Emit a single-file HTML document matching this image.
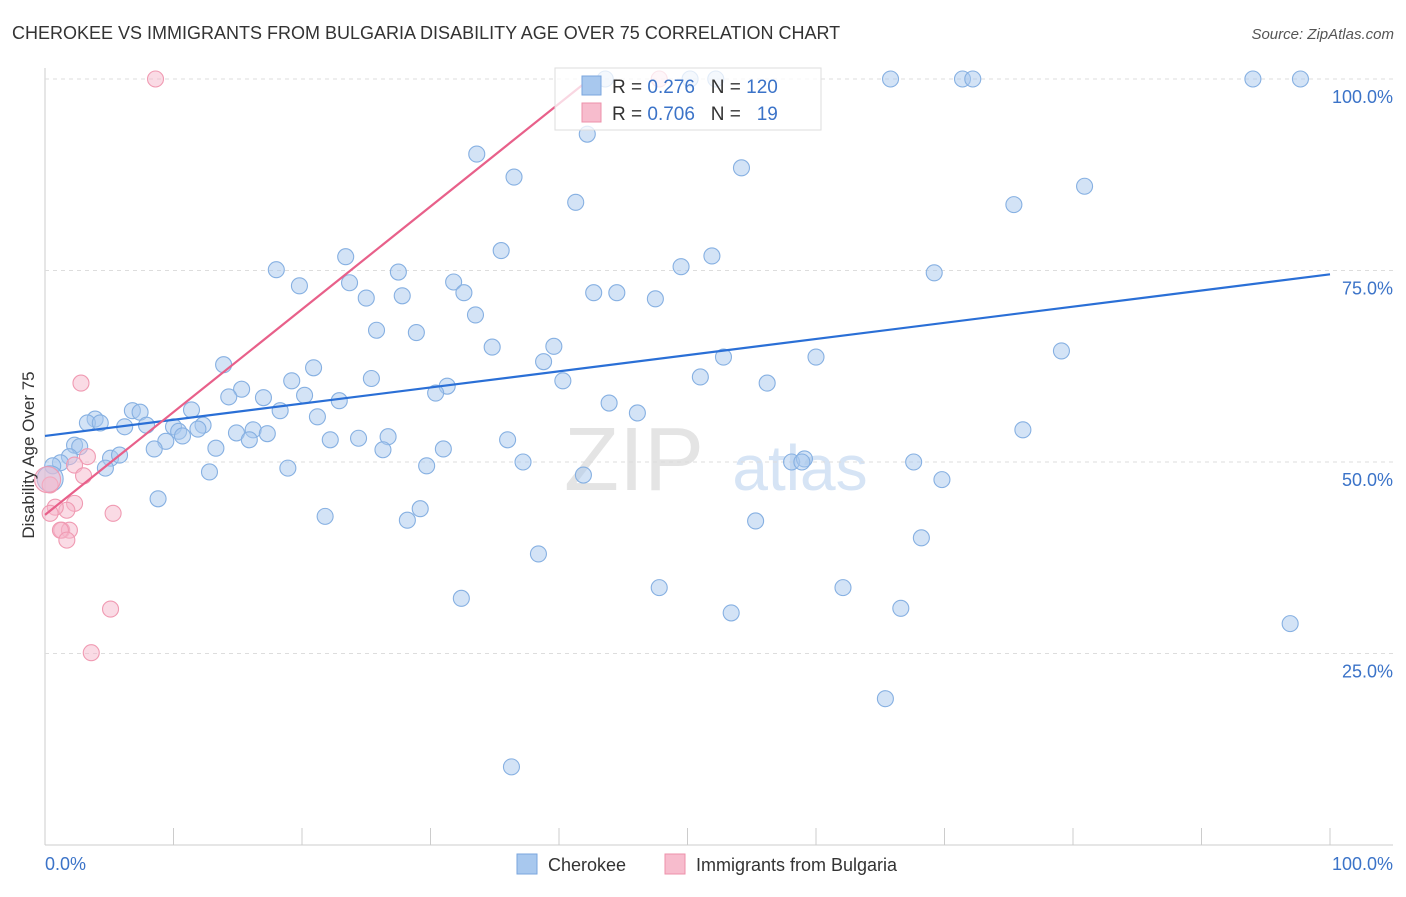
<!DOCTYPE html>
<html><head><meta charset="utf-8"><style>
body{margin:0;background:#fff;font-family:"Liberation Sans",sans-serif;}
svg text{font-family:"Liberation Sans",sans-serif;}
</style></head><body>
<svg width="1406" height="892" xmlns="http://www.w3.org/2000/svg">
<text x="12" y="39" font-size="18" fill="#333">CHEROKEE VS IMMIGRANTS FROM BULGARIA DISABILITY AGE OVER 75 CORRELATION CHART</text>
<text x="1394" y="39" font-size="15" fill="#555" font-style="italic" text-anchor="end">Source: ZipAtlas.com</text>
<text x="634" y="490" font-size="90" fill="#e4e4e4" font-family="Liberation Serif" text-anchor="middle">ZIP</text>
<text x="800" y="490" font-size="64" fill="#d6e4f5" text-anchor="middle">atlas</text>
<g id="grid"></g><g id="pts"></g><g id="lines"></g>
<text x="34" y="455" font-size="17" fill="#333" transform="rotate(-90 34 455)" text-anchor="middle">Disability Age Over 75</text>
<text x="45" y="870" font-size="18" fill="#3b73c8">0.0%</text>
<text x="1393" y="870" font-size="18" fill="#3b73c8" text-anchor="end">100.0%</text>
<rect x="555" y="68" width="266" height="62" fill="#fff" fill-opacity="0.75" stroke="#ddd"/>
<rect x="582" y="76" width="19" height="19" fill="#a8c8ee" stroke="#7aa6de"/>
<rect x="582" y="103" width="19" height="19" fill="#f7bccd" stroke="#ee90aa"/>
<text x="612" y="93" font-size="19" fill="#333">R = <tspan fill="#3b73c8">0.276</tspan>&#160;&#160;&#160;N = <tspan fill="#3b73c8">120</tspan></text>
<text x="612" y="120" font-size="19" fill="#333">R = <tspan fill="#3b73c8">0.706</tspan>&#160;&#160;&#160;N = <tspan fill="#3b73c8">&#160;&#160;19</tspan></text>
<rect x="517" y="854" width="20" height="20" fill="#a8c8ee" stroke="#7aa6de"/>
<text x="548" y="871" font-size="18" fill="#333">Cherokee</text>
<rect x="665" y="854" width="20" height="20" fill="#f7bccd" stroke="#ee90aa"/>
<text x="696" y="871" font-size="18" fill="#333">Immigrants from Bulgaria</text>
</svg>
<script>
const yTicks=[100,75,50,25];
const yTickLabels=["100.0%","75.0%","50.0%","25.0%"];
const xTicks=[0,10,20,30,40,50,60,70,80,90,100];
const blueX=[43.6,50.2,52.2,65.8,71.4,72.2,94.0,97.7,42.2,33.6,54.2,36.5,80.9,41.3,75.4,35.5,23.4,51.9,18.0,49.5,27.5,69.2,19.8,23.7,31.8,42.7,44.5,27.8,32.6,25.0,47.5,33.5,25.8,28.9,34.8,39.6,79.1,52.8,60.0,13.9,20.9,38.8,25.4,19.2,51.0,40.3,56.2,15.3,31.3,30.4,14.3,20.2,17.0,22.9,6.8,7.4,11.4,18.3,43.9,46.1,3.9,3.3,4.3,21.2,6.2,7.9,10.0,12.3,11.9,14.9,16.2,17.3,10.4,10.7,22.2,24.4,26.7,9.4,36.0,15.9,2.3,2.7,8.5,13.3,26.3,31.0,76.1,5.1,5.8,1.9,1.2,4.7,0.6,18.9,12.8,29.7,37.2,58.1,59.1,58.9,67.6,41.9,69.8,8.8,29.2,21.8,28.2,55.3,68.2,38.4,47.8,32.4,62.1,53.4,66.6,96.9,65.4,36.3,0.4];
const blueY=[100,100,100,100,100,100,100,100,92.8,90.2,88.4,87.2,86.0,83.9,83.6,77.6,76.8,76.9,75.1,75.5,74.8,74.7,73.0,73.4,73.5,72.1,72.1,71.7,72.1,71.4,71.3,69.2,67.2,66.9,65.0,65.1,64.5,63.7,63.7,62.7,62.3,63.1,60.9,60.6,61.1,60.6,60.3,59.5,59.9,59.0,58.5,58.7,58.4,58.0,56.7,56.5,56.8,56.7,57.7,56.4,55.6,55.1,55.1,55.9,54.6,54.8,54.6,54.8,54.3,53.8,54.2,53.7,54.0,53.4,52.9,53.1,53.3,52.7,52.9,52.9,52.2,52.0,51.7,51.8,51.6,51.7,54.2,50.5,50.9,50.7,49.9,49.2,49.5,49.2,48.7,49.5,50.0,50.0,50.4,50.0,50.0,48.3,47.7,45.2,43.9,42.9,42.4,42.3,40.1,38.0,33.6,32.2,33.6,30.3,30.9,28.9,19.1,10.2,47.8];
const pinkX=[8.6,47.8,2.8,3.3,2.3,3.0,0.4,2.3,1.7,0.8,0.4,5.3,1.3,1.9,1.2,1.7,5.1,3.6,0.2];
const pinkY=[100,100,60.3,50.7,49.6,48.2,47.0,44.6,43.7,44.1,43.3,43.3,41.1,41.1,41.1,39.8,30.8,25.1,47.7];
const blueTrend=[[0,53.4],[100,74.5]];
const pinkTrend=[[0,43.1],[42.4,100]];
const NS="http://www.w3.org/2000/svg";
const X0=45,X1=1330,Y0=845,Y100=79;
function sx(v){return X0+(X1-X0)*v/100;}
function sy(v){return Y0-(Y0-Y100)*v/100;}
function mk(t,a,p){const e=document.createElementNS(NS,t);for(const k in a)e.setAttribute(k,a[k]);p.appendChild(e);return e;}
const g=document.getElementById('grid');
let ax=mk('line',{x1:X0,y1:68,x2:X0,y2:Y0,stroke:'#ccc'},g);


let bx=mk('line',{x1:X0,y1:Y0,x2:1393,y2:Y0,stroke:'#ccc'},g);


yTicks.forEach((t,i)=>{
 const l=mk('line',{x1:X0,y1:sy(t),x2:1393,y2:sy(t),stroke:'#ddd','stroke-dasharray':'4,4'},g);
 
 
 const tx=mk('text',{x:1393,y:sy(t)+24,'font-size':18,fill:'#3b73c8','text-anchor':'end'},g);
 tx.textContent=yTickLabels[i];
 
 
});
xTicks.forEach(t=>{
 const l=mk('line',{x1:sx(t),y1:828,x2:sx(t),y2:Y0,stroke:'#ccc'},g);
 
 
});
const p=document.getElementById('pts');
blueX.forEach((x,i)=>{
 const r=i===blueX.length-1?13:8;
 const c=mk('circle',{cx:sx(x),cy:sy(blueY[i]),r:r,fill:'rgba(168,200,238,0.5)',stroke:'#86b0e2','stroke-width':1.1},p);
 
 
});
pinkX.forEach((x,i)=>{
 const r=i===pinkX.length-1?13:8;
 const c=mk('circle',{cx:sx(x),cy:sy(pinkY[i]),r:r,fill:'rgba(246,184,204,0.5)',stroke:'#f09ab2','stroke-width':1.1},p);
 
 
});
const L=document.getElementById('lines');
let bl=mk('line',{x1:sx(blueTrend[0][0]),y1:sy(blueTrend[0][1]),x2:sx(blueTrend[1][0]),y2:sy(blueTrend[1][1]),stroke:'#2a6fd6','stroke-width':2.2},L);


let pl=mk('line',{x1:sx(pinkTrend[0][0]),y1:sy(pinkTrend[0][1]),x2:sx(pinkTrend[1][0]),y2:sy(pinkTrend[1][1]),stroke:'#e8608a','stroke-width':2.2},L);


</script>
</body></html>
